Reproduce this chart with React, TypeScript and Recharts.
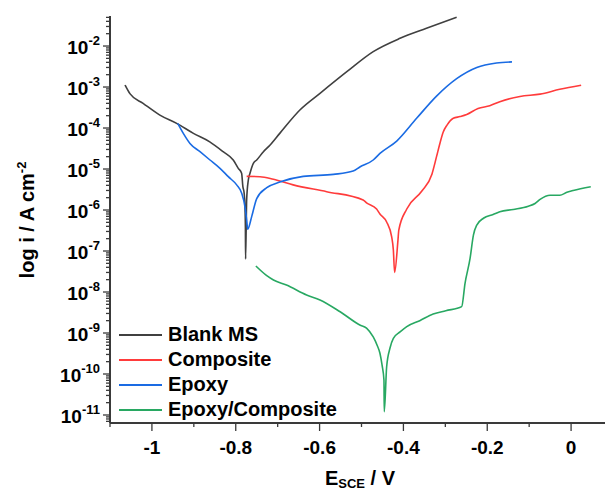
import React from "react";
import { LineChart, Line, XAxis, YAxis, Legend, Label } from "recharts";

// Potential (V vs SCE) and current density (A cm-2) for each sample
const BLANK_E = [-1.064, -1.052, -1.021, -0.981, -0.941, -0.901, -0.862, -0.83, -0.806, -0.794, -0.786, -0.783, -0.78, -0.778, -0.777, -0.7765, -0.774, -0.77, -0.766, -0.758, -0.75, -0.734, -0.718, -0.695, -0.647, -0.599, -0.535, -0.472, -0.408, -0.345, -0.273];
const BLANK_I = [1.12e-3, 6.8e-4, 4.0e-4, 2.07e-4, 1.3e-4, 7.4e-5, 4.6e-5, 2.64e-5, 1.66e-5, 1.04e-5, 7.9e-6, 3.7e-6, 2.6e-6, 1.2e-6, 3.9e-7, 6.4e-8, 1.75e-6, 5.4e-6, 7.9e-6, 1.38e-5, 1.66e-5, 2.64e-5, 3.85e-5, 7.4e-5, 2.75e-4, 7.0e-4, 2.36e-3, 7.3e-3, 1.54e-2, 2.7e-2, 5.0e-2];

const COMP_E = [-0.774, -0.742, -0.71, -0.663, -0.583, -0.496, -0.488, -0.464, -0.456, -0.44, -0.428, -0.424, -0.421, -0.413, -0.411, -0.392, -0.356, -0.332, -0.321, -0.313, -0.305, -0.296, -0.281, -0.265, -0.249, -0.222, -0.194, -0.17, -0.122, -0.074, -0.027, 0.024];
const COMP_I = [6.6e-6, 6.5e-6, 5.6e-6, 4.1e-6, 2.8e-6, 1.75e-6, 1.5e-6, 1.06e-6, 8.0e-7, 5.1e-7, 2.2e-7, 1.06e-7, 3.0e-8, 1.85e-7, 3.25e-7, 1.06e-6, 2.9e-6, 7.5e-6, 2.0e-5, 4.2e-5, 8.0e-5, 1.18e-4, 1.73e-4, 1.9e-4, 2.14e-4, 3.0e-4, 3.5e-4, 4.4e-4, 5.9e-4, 6.7e-4, 8.8e-4, 1.11e-3];

const EPOXY_E = [-0.9385, -0.9251, -0.9092, -0.8853, -0.8615, -0.8376, -0.8178, -0.7978, -0.7858, -0.778, -0.7739, -0.7715, -0.762, -0.75, -0.726, -0.695, -0.639, -0.567, -0.52, -0.504, -0.472, -0.456, -0.416, -0.368, -0.321, -0.273, -0.225, -0.178, -0.141];
const EPOXY_I = [1.3e-4, 7.4e-5, 4.2e-5, 2.64e-5, 1.66e-5, 1.04e-5, 6.5e-6, 4.1e-6, 2.56e-6, 1.2e-6, 5.7e-7, 3.4e-7, 6.9e-7, 1.9e-6, 3.5e-6, 4.8e-6, 6.6e-6, 7.4e-6, 8.9e-6, 1.12e-5, 1.66e-5, 2.4e-5, 4.8e-5, 1.75e-4, 6.0e-4, 1.6e-3, 3.0e-3, 3.85e-3, 4.1e-3];

const EC_E = [-0.752, -0.726, -0.71, -0.679, -0.631, -0.599, -0.551, -0.504, -0.488, -0.472, -0.463, -0.456, -0.451, -0.4464, -0.4457, -0.44, -0.432, -0.424, -0.408, -0.392, -0.361, -0.329, -0.299, -0.261, -0.253, -0.241, -0.233, -0.225, -0.209, -0.186, -0.17, -0.138, -0.102, -0.086, -0.074, -0.05, -0.027, -0.01, 0.005, 0.047];
const EC_I = [4.3e-8, 2.5e-8, 1.96e-8, 1.48e-8, 8.5e-9, 6.4e-9, 3.3e-9, 1.57e-9, 1.32e-9, 8.0e-10, 5.1e-10, 3.2e-10, 1.66e-10, 7.1e-11, 1.2e-11, 1.5e-10, 4.3e-10, 7.4e-10, 1.06e-9, 1.43e-9, 2.0e-9, 2.9e-9, 3.5e-9, 4.4e-9, 1.63e-8, 6.6e-8, 2.45e-7, 4.3e-7, 6.3e-7, 7.8e-7, 9.1e-7, 1.03e-6, 1.23e-6, 1.44e-6, 1.82e-6, 2.3e-6, 2.3e-6, 2.7e-6, 3.0e-6, 3.7e-6];

const SERIES_NAMES = ["Blank MS", "Composite", "Epoxy", "Epoxy/Composite"];
const SERIES_COLORS = ["#404040", "#ff3b3b", "#1a6be3", "#28a862"];

const X_DOMAIN = [-1.1, 0.1];
const X_MAJOR = [-1, -0.8, -0.6, -0.4, -0.2, 0];
const X_MINOR = [-1.1, -0.9, -0.7, -0.5, -0.3, -0.1, 0.1];

const Y_MIN = 6.38e-12;
const Y_MAX = 0.054;
const Y_DECADES = [-12, -11, -10, -9, -8, -7, -6, -5, -4, -3, -2];

const FONT = '"Liberation Sans", Arial, Helvetica, sans-serif';
const AXIS = "#3a3a3a";

const zip = (e: number[], i: number[]) => e.map((v, k) => ({ E: v, i: i[k] }));
const SERIES_DATA = [zip(BLANK_E, BLANK_I), zip(COMP_E, COMP_I), zip(EPOXY_E, EPOXY_I), zip(EC_E, EC_I)];

// decade ticks plus 2..9 minor ticks inside the visible range
const Y_TICKS: number[] = [];
Y_DECADES.forEach((d) => {
  for (let k = 1; k <= 9; k++) {
    const v = k * Math.pow(10, d);
    if (v >= Y_MIN && v <= Y_MAX) Y_TICKS.push(v);
  }
});
const X_TICKS = [...X_MINOR, ...X_MAJOR].sort((a, b) => a - b);

function YTick(props: any) {
  const { x, y, payload } = props;
  const lg = Math.log10(payload.value);
  const exp = Math.round(lg);
  const major = Math.abs(lg - exp) < 1e-6;
  return (
    <g>
      <line x1={x} x2={x - (major ? 7 : 4)} y1={y} y2={y} stroke={AXIS} strokeWidth={1.3} />
      {major && (
        <text x={x - 10} y={y + 8} textAnchor="end" fontFamily={FONT} fontWeight="bold" fontSize={19} fill="#000">
          10<tspan dy={-9} fontSize={13}>{exp}</tspan>
        </text>
      )}
    </g>
  );
}

function XTick(props: any) {
  const { x, y, payload } = props;
  const v = payload.value;
  const major = X_MAJOR.some((m) => Math.abs(m - v) < 1e-9);
  return (
    <g>
      <line x1={x} x2={x} y1={y} y2={y + (major ? 8 : 4)} stroke={AXIS} strokeWidth={1.3} />
      {major && (
        <text x={x} y={y + 31} textAnchor="middle" fontFamily={FONT} fontWeight="bold" fontSize={19} fill="#000">
          {String(v)}
        </text>
      )}
    </g>
  );
}

function LegendBox(props: any) {
  const items = props.payload || [];
  return (
    <div style={{ fontFamily: FONT, fontWeight: "bold", fontSize: 20, color: "#000" }}>
      {items.map((it: any) => (
        <div key={it.value} style={{ display: "flex", alignItems: "center", height: 25 }}>
          <svg width={44} height={4} style={{ marginRight: 6 }}>
            <line x1={1} x2={44} y1={2} y2={2} stroke={it.color} strokeWidth={2} />
          </svg>
          <span style={{ lineHeight: "25px", whiteSpace: "nowrap" }}>{it.value}</span>
        </div>
      ))}
    </div>
  );
}

export default function App() {
  return (
    <div style={{ position: "absolute", left: 0, top: 0, width: 605, height: 491, overflow: "hidden", background: "#fff" }}>
      <LineChart width={615} height={491} margin={{ top: 16, right: 2, bottom: 0, left: 0 }}>
        <XAxis
          type="number"
          dataKey="E"
          domain={X_DOMAIN}
          ticks={X_TICKS}
          interval={0}
          allowDataOverflow
          height={68}
          tickSize={0}
          tickMargin={0}
          tickLine={false}
          axisLine={{ stroke: AXIS, strokeWidth: 2 }}
          tick={(p: any) => <XTick {...p} />}
        >
          <Label
            content={() => (
              <text x={360} y={485} textAnchor="middle" fontFamily={FONT} fontWeight="bold" fontSize={20} fill="#000">
                E<tspan dy={3} fontSize={13}>SCE</tspan>
                <tspan dy={-3} fontSize={20}> / V</tspan>
              </text>
            )}
          />
        </XAxis>
        <XAxis
          xAxisId="top"
          orientation="top"
          type="number"
          domain={X_DOMAIN}
          height={0}
          tick={false}
          tickLine={false}
          axisLine={{ stroke: AXIS, strokeWidth: 2 }}
        />
        <YAxis
          type="number"
          scale="log"
          domain={[Y_MIN, Y_MAX]}
          allowDataOverflow
          ticks={Y_TICKS}
          interval={0}
          width={110}
          tickSize={0}
          tickMargin={0}
          tickLine={false}
          axisLine={{ stroke: AXIS, strokeWidth: 2 }}
          tick={(p: any) => <YTick {...p} />}
        >
          <Label
            content={() => (
              <text
                x={34}
                y={220}
                transform="rotate(-90, 34, 220)"
                textAnchor="middle"
                fontFamily={FONT}
                fontWeight="bold"
                fontSize={20}
                fill="#000"
              >
                log i / A cm<tspan dy={-8} fontSize={13}>-2</tspan>
              </text>
            )}
          />
        </YAxis>
        <Legend
          layout="vertical"
          align="center"
          verticalAlign="middle"
          content={(p: any) => <LegendBox {...p} />}
          wrapperStyle={{ left: 118, top: 322, width: 260, height: 100 }}
        />
        {SERIES_NAMES.map((name, k) => (
          <Line
            key={name}
            name={name}
            data={SERIES_DATA[k]}
            dataKey="i"
            type="monotone"
            stroke={SERIES_COLORS[k]}
            strokeWidth={1.6}
            dot={false}
            activeDot={false}
            isAnimationActive={false}
          />
        ))}
      </LineChart>
    </div>
  );
}
